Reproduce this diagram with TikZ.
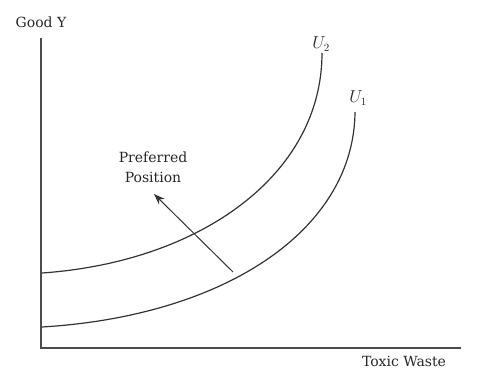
\documentclass[tikz,border=0pt]{standalone}
\usepackage{fontspec}
\setmainfont{DejaVu Serif}
\usetikzlibrary{arrows.meta}
\begin{document}
\begin{tikzpicture}[x=1pt,y=-1pt,
  axis/.style={line width=1.6pt,draw=black!70},
  curve/.style={line width=1.2pt,draw=black!80},
  lbl/.style={font=\fontsize{14}{20}\selectfont,inner sep=0pt,text=black!85},
  ulbl/.style={font=\fontsize{16}{18}\selectfont,inner sep=0pt,text=black!85}]
\useasboundingbox (0,0) rectangle (499,378);
\coordinate (top) at (41,38);
\coordinate (origin) at (41,348);
\coordinate (right) at (461,348);
\draw[axis] (top) -- (origin) -- (right);
\node[lbl] (gy) at (41,22) {Good Y};
\node[lbl] (tw) at (404,361) {Toxic Waste};
% U2
\coordinate (u2a) at (42,273);
\coordinate (u2b) at (322,53);
\draw[curve] (u2a) .. controls (200,262) and (322,175) .. (u2b);
\node[ulbl] (u2) at (321,44) {$U_2$};
% U1
\coordinate (u1a) at (42,327);
\coordinate (u1b) at (355,112);
\draw[curve] (u1a) .. controls (225,316) and (354,230) .. (u1b);
\node[ulbl] (u1) at (358,98) {$U_1$};
% arrow
\coordinate (as) at (233,272);
\coordinate (ae) at (154,194);
\draw[line width=1pt,draw=black!80,-{Stealth[length=11pt,width=8pt]}] (as) -- (ae);
\node[lbl,align=center] (pp) at (153,167) {Preferred\\Position};
\end{tikzpicture}
\end{document}
